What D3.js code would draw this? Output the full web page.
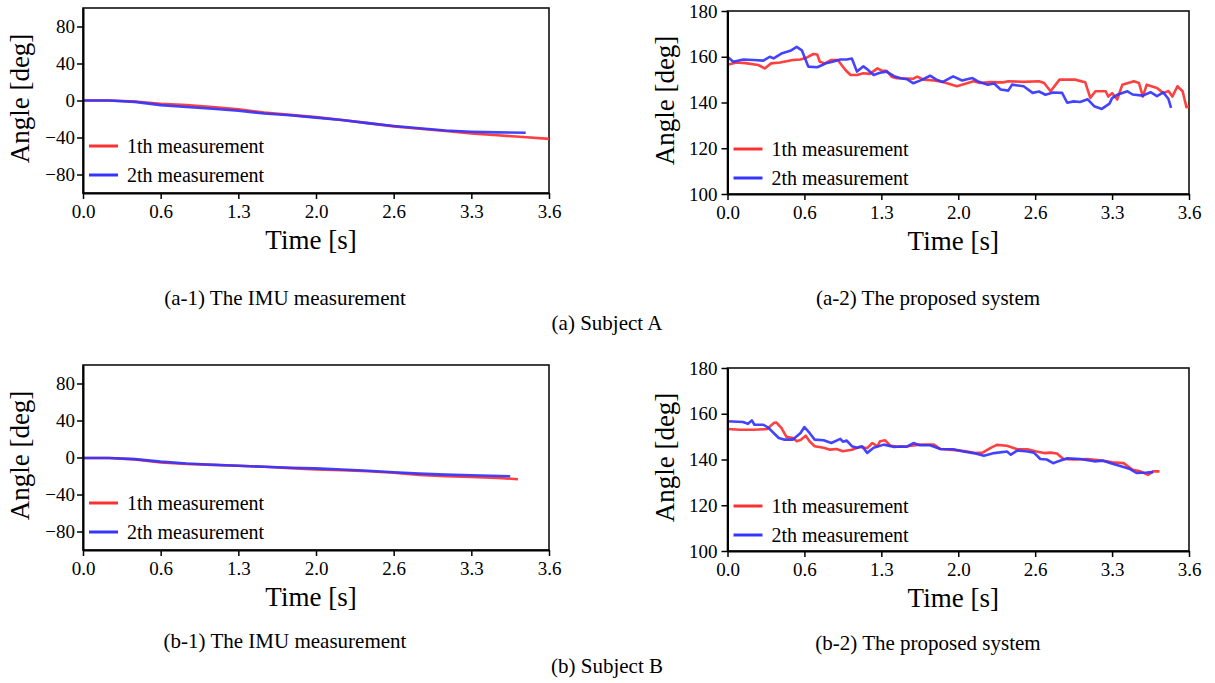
<!DOCTYPE html>
<html><head><meta charset="utf-8">
<script src="https://cdn.jsdelivr.net/npm/d3@7"></script>
<style>
body{margin:0;background:#fff}
svg{display:block}
text{font-family:"Liberation Serif","Times New Roman",serif;fill:#000}
</style>
</head><body>
<svg id="c" width="1215" height="683"></svg>
<script>
// ---- shared axis definitions ----
const xTickValues = [0, 0.6, 1.2, 1.8, 2.4, 3.0, 3.6];
const xTickLabels = ["0.0", "0.6", "1.3", "2.0", "2.6", "3.3", "3.6"];
const imuTicks = [-80, -40, 0, 40, 80];
const sysTicks = [100, 120, 140, 160, 180];
const seriesNames = ["1th measurement", "2th measurement"];
const seriesColors = ["#ff3030", "#3434ff"];

// ---- (a-1) Subject A, IMU ----
const a1TimeRed = [0,0.2,0.4,0.6,0.8,1.0,1.2,1.4,1.6,1.8,2.0,2.2,2.4,2.6,2.8,3.0,3.2,3.4,3.6];
const a1Red     = [0,0,-1,-3.5,-5,-7,-9.5,-13,-15.5,-18,-21,-24.5,-28,-30.5,-33,-35.5,-37.5,-39.5,-41.5];
const a1TimeBlue = [0,0.2,0.4,0.6,0.8,1.0,1.2,1.4,1.6,1.8,2.0,2.2,2.4,2.6,2.8,3.0,3.2,3.42];
const a1Blue     = [0,0,-1.5,-5,-7,-9,-11,-14,-16,-18.5,-21,-24.5,-27.5,-30,-32.5,-33.8,-34.5,-34.8];

// ---- (a-2) Subject A, proposed system ----
const a2TimeRed = [0,0.07,0.14,0.24,0.29,0.34,0.41,0.51,0.57,0.62,0.67,0.70,0.72,0.76,0.81,0.86,0.92,0.96,1.01,1.06,1.11,1.17,1.20,1.24,1.28,1.32,1.40,1.45,1.48,1.53,1.61,1.68,1.79,1.92,1.97,2.05,2.15,2.19,2.31,2.43,2.47,2.52,2.59,2.71,2.79,2.83,2.87,2.95,2.97,3.00,3.04,3.08,3.17,3.21,3.24,3.27,3.35,3.40,3.44,3.47,3.51,3.55,3.58,3.60];
const a2Red     = [156.5,157.5,157.2,156.4,154.9,157.1,157.5,158.6,158.8,159.7,161.2,161,157.8,157.1,158.6,158.6,154.2,152,152,152.8,152.5,154.9,154,153.9,151.3,150.6,150.5,150.4,151.3,150,149.6,149,147.1,149.3,148.5,148.9,148.8,149.3,149,149.3,148.5,144.9,150,150,148.9,142,144.9,144.9,142.6,144.1,141.3,147.8,149.3,148.5,142.6,147.8,146.3,144.1,145,142.6,147.1,144.9,138,138.3];
const a2TimeBlue = [0,0.045,0.124,0.20,0.28,0.33,0.36,0.42,0.49,0.54,0.58,0.63,0.70,0.74,0.77,0.82,0.88,0.93,0.97,1.01,1.06,1.09,1.14,1.19,1.24,1.30,1.35,1.40,1.45,1.52,1.58,1.63,1.68,1.76,1.83,1.91,1.95,2.03,2.08,2.13,2.19,2.22,2.31,2.38,2.43,2.48,2.54,2.61,2.65,2.70,2.75,2.81,2.86,2.92,2.98,3.00,3.04,3.12,3.16,3.24,3.30,3.35,3.40,3.44,3.46];
const a2Blue     = [160,157.8,158.8,158.6,158.3,160,159.3,161.4,162.6,164.3,162.8,155.7,155.4,156.4,157.2,157.8,158.8,158.8,159.2,153.5,155.8,154.5,152,153,153.5,151.5,150.6,150.2,148.4,150,151.7,150,149,151.4,149.6,150.7,149.3,147.8,148.3,145.7,145.2,147.8,147.1,144.2,144.8,143.4,144.4,144.2,139.9,140.5,140.2,141.4,138.4,137.2,139.5,141.9,143.4,144.9,143.5,143,144.5,142.8,144.4,141.5,137.7];

// ---- (b-1) Subject B, IMU ----
const b1TimeRed = [0,0.2,0.4,0.6,0.8,1.0,1.2,1.4,1.6,1.8,2.0,2.2,2.4,2.6,2.8,3.0,3.2,3.36];
const b1Red     = [-0.5,-0.5,-2,-5.4,-7,-8,-9,-10,-11.5,-13,-13.8,-14.8,-16.5,-18.8,-20.3,-21,-22,-23.5];
const b1TimeBlue = [0,0.2,0.4,0.6,0.8,1.0,1.2,1.4,1.6,1.8,2.0,2.2,2.4,2.6,2.8,3.0,3.3];
const b1Blue     = [-0.5,-0.5,-1.8,-4.5,-6.5,-7.8,-9,-10,-11,-11.8,-13,-14.3,-16,-17.4,-18.5,-19.2,-20.3];

// ---- (b-2) Subject B, proposed system ----
const b2TimeRed = [0,0.10,0.20,0.31,0.36,0.38,0.42,0.46,0.51,0.54,0.57,0.61,0.64,0.68,0.75,0.80,0.85,0.90,0.97,1.03,1.09,1.13,1.17,1.19,1.23,1.27,1.32,1.40,1.50,1.61,1.66,1.76,1.86,1.93,1.99,2.05,2.10,2.18,2.26,2.34,2.41,2.47,2.52,2.57,2.62,2.70,2.81,2.88,2.96,3.00,3.09,3.16,3.22,3.28,3.32,3.37];
const b2Red     = [153.3,153,153,153.3,155.9,156.2,153.8,149.9,149.4,148,148.5,150.4,148,145.8,145.1,144.3,144.6,143.6,144.3,145.5,145,147.2,145.8,148,148.4,146.1,145.6,145.8,146.5,146.5,144.6,144.2,143.6,142.8,143,145,146.4,146,144.5,144.5,143.5,142.8,143,142.6,140.2,140,140.2,139.8,139.2,138.8,138.4,135.5,134.8,133.3,134.8,134.8];
const b2TimeBlue = [0,0.12,0.16,0.19,0.21,0.28,0.32,0.36,0.40,0.44,0.51,0.57,0.60,0.64,0.68,0.75,0.81,0.88,0.90,0.93,0.97,1.01,1.05,1.09,1.14,1.22,1.30,1.35,1.40,1.45,1.50,1.58,1.66,1.76,1.84,1.92,2.00,2.08,2.18,2.21,2.26,2.34,2.39,2.44,2.49,2.54,2.57,2.65,2.75,2.86,2.93,2.99,3.07,3.14,3.19,3.27,3.32];
const b2Blue     = [156.7,156.4,155.6,157.1,155.2,155.2,153.8,151.6,149.4,148.7,148.7,151.6,154.2,151.6,148.7,148.4,147.2,149,147.8,148.3,145.8,145.1,145.8,142.9,145.1,146.5,145.5,145.7,145.6,147.2,146.2,146.2,144.6,144.5,143.5,142.8,141.6,142.8,143.5,142.1,143.9,143.5,143,140.2,140,138.4,139,140.5,140.2,139.2,139.5,138.4,137,135.8,134.1,134.3,134.5];

// ---- build panels ----
const panels = [
  {box:[83,549,8,193],  yDomain:[-100,100], yTicks:imuTicks, series:[[a1TimeRed,a1Red],[a1TimeBlue,a1Blue]], yPad:2},
  {box:[727.5,1189,11,194], yDomain:[100,180], yTicks:sysTicks, series:[[a2TimeRed,a2Red],[a2TimeBlue,a2Blue]], yPad:4},
  {box:[83,549,365,550], yDomain:[-100,100], yTicks:imuTicks, series:[[b1TimeRed,b1Red],[b1TimeBlue,b1Blue]], yPad:2},
  {box:[727.5,1189,368,551], yDomain:[100,180], yTicks:sysTicks, series:[[b2TimeRed,b2Red],[b2TimeBlue,b2Blue]], yPad:4}
];

const svg = d3.select("#c");

panels.forEach(p => {
  const [L, R, T, B] = p.box;
  const x = d3.scaleLinear().domain([0, 3.6]).range([L, R]);
  const y = d3.scaleLinear().domain(p.yDomain).range([B, T]);
  const g = svg.append("g");

  // frame
  g.append("rect").attr("x", L).attr("y", T).attr("width", R - L).attr("height", B - T)
    .attr("fill", "none").attr("stroke", "#111").attr("stroke-width", 1.6);

  // lines
  const line = d3.line().x(d => x(d[0])).y(d => y(d[1]));
  p.series.forEach((s, i) => {
    const pts = s[0].map((t, k) => [t, s[1][k]]);
    g.append("path").datum(pts).attr("d", line)
      .attr("fill", "none").attr("stroke", seriesColors[i])
      .attr("stroke-width", 2.6).attr("stroke-linejoin", "round").attr("stroke-opacity", 0.92);
  });

  // axes
  const xa = g.append("g").attr("transform", `translate(0,${B})`)
    .call(d3.axisBottom(x).tickValues(xTickValues).tickFormat((d, i) => xTickLabels[i]).tickSize(6).tickPadding(6).tickSizeOuter(0));
  const ya = g.append("g").attr("transform", `translate(${L},0)`)
    .call(d3.axisLeft(y).tickValues(p.yTicks).tickFormat(d3.format("d")).tickSize(6).tickPadding(p.yPad).tickSizeOuter(0));
  [xa, ya].forEach(a => {
    a.select(".domain").attr("stroke", "#000").attr("stroke-width", 2);
    a.selectAll(".tick line").attr("stroke", "#000").attr("stroke-width", 1.5);
    a.selectAll(".tick text").attr("font-size", 19).attr("font-family", "Liberation Serif").attr("fill", "#000");
  });

  // axis titles
  g.append("text").attr("x", (L + R) / 2 - 5).attr("y", B + 56)
    .attr("text-anchor", "middle").attr("font-size", 27).text("Time [s]");
  g.append("text").attr("transform", `translate(${L - 54},${(T + B) / 2 - 2}) rotate(-90)`)
    .attr("text-anchor", "middle").attr("font-size", 27).text("Angle [deg]");

  // legend
  seriesNames.forEach((name, i) => {
    const ly = T + 138 + i * 29;
    g.append("line").attr("x1", L + 6).attr("x2", L + 35).attr("y1", ly).attr("y2", ly)
      .attr("stroke", seriesColors[i]).attr("stroke-width", 3);
    g.append("text").attr("x", L + 44).attr("y", ly).attr("dy", "0.35em")
      .attr("font-size", 20).text(name);
  });
});

// captions
const captions = [
  ["(a-1) The IMU measurement", 285, 305],
  ["(a-2) The proposed system", 928, 305],
  ["(a) Subject A", 607, 330],
  ["(b-1) The IMU measurement", 285, 648],
  ["(b-2) The proposed system", 928, 650],
  ["(b) Subject B", 607, 673]
];
captions.forEach(c => {
  svg.append("text").attr("x", c[1]).attr("y", c[2]).attr("text-anchor", "middle")
    .attr("font-size", 21).text(c[0]);
});
</script>
</body></html>
